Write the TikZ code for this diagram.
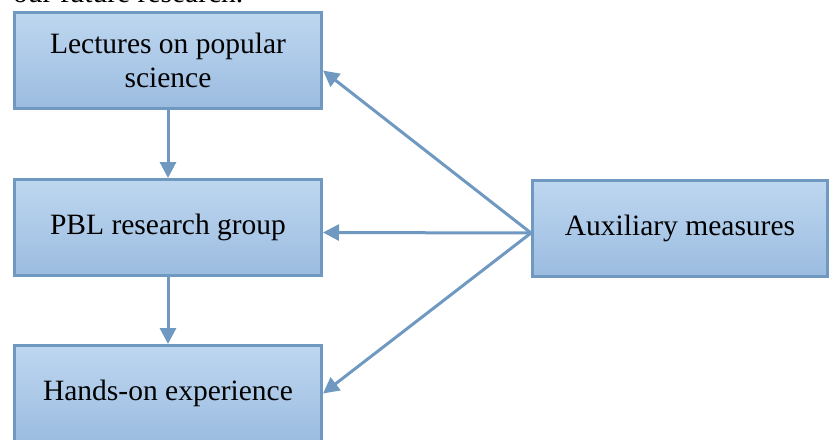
\documentclass[tikz,border=0pt]{standalone}
\usepackage{fontspec}
\setmainfont{Liberation Serif}
\usetikzlibrary{arrows.meta,calc}
\definecolor{bordc}{RGB}{112,153,194}
\definecolor{topc}{RGB}{190,215,240}
\definecolor{botc}{RGB}{155,188,224}
\begin{document}
\begin{tikzpicture}[x=1pt,y=1pt,
  box/.style={draw=bordc, line width=3pt, top color=topc, bottom color=botc,
    minimum width=307pt, minimum height=96pt, inner sep=0pt, align=center,
    font=\fontsize{29.5}{34}\selectfont},
  conn/.style={draw=bordc, line width=3pt, -{Triangle[length=16pt,width=16pt]}},
  txt/.style={inner sep=0pt, font=\fontsize{29.5}{34}\selectfont}]
\useasboundingbox (0,0) rectangle (829,-439);
\clip (0,0) rectangle (829,-439);
\node[txt, anchor=base west] (top) at (13,-2.5) {our future research.};
\node[box] (b1) at (168,-60.5) {Lectures on popular\\science};
\node[box] (b2) at (168,-227.5) {PBL research group};
\node[box] (b3) at (168,-393.5) {Hands-on experience};
\node[box, minimum width=295pt] (aux) at (680,-228) {Auxiliary measures};
\coordinate (hub) at ($(aux.west)+(0,-5)$);
\draw[conn] (b1.south) -- (b2.north);
\draw[conn] (b2.south) -- (b3.north);
\draw[conn] (hub) -- ($(b1.east)+(0,-10)$);
\draw[conn] (hub) -- ($(b2.east)+(0,-5)$);
\draw[conn] (hub) -- (b3.east);
\end{tikzpicture}
\end{document}
